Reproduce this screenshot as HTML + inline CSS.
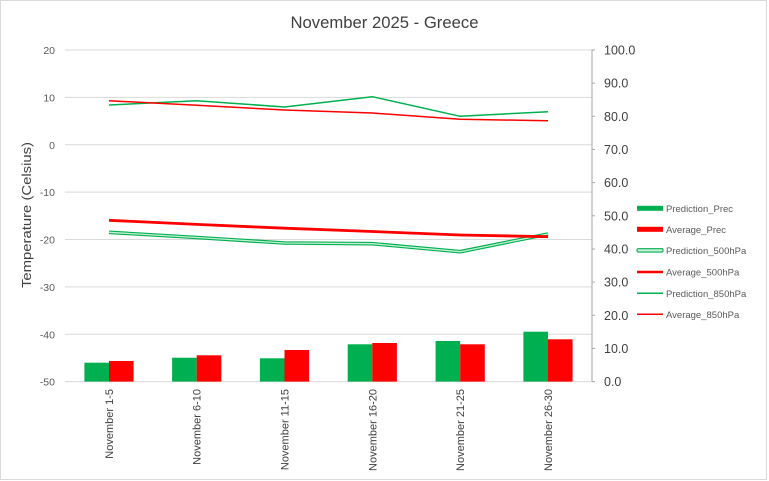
<!DOCTYPE html>
<html><head><meta charset="utf-8"><style>
html,body{margin:0;padding:0;background:#fff;}
svg{display:block;font-family:"Liberation Sans",Arial,sans-serif;}
</style></head><body>
<svg width="769" height="481" viewBox="0 0 769 481" xmlns="http://www.w3.org/2000/svg">
<rect x="0.5" y="0.5" width="766" height="479" fill="#fff" stroke="#d9d9d9" stroke-width="1"/>
<text x="384.5" y="28" text-anchor="middle" font-size="17" fill="#404040" textLength="188" lengthAdjust="spacingAndGlyphs">November 2025 - Greece</text>
<!-- gridlines -->
<g stroke="#d9d9d9" stroke-width="1">
<line x1="65" y1="50" x2="592" y2="50"/>
<line x1="65" y1="97.4" x2="592" y2="97.4"/>
<line x1="65" y1="144.8" x2="592" y2="144.8"/>
<line x1="65" y1="192.1" x2="592" y2="192.1"/>
<line x1="65" y1="239.5" x2="592" y2="239.5"/>
<line x1="65" y1="286.9" x2="592" y2="286.9"/>
<line x1="65" y1="334.3" x2="592" y2="334.3"/>
<line x1="65" y1="381.6" x2="592" y2="381.6"/>
</g>
<!-- left axis labels -->
<g font-size="10.5" fill="#595959" text-anchor="end">
<text x="55" y="54">20</text>
<text x="55" y="101.4">10</text>
<text x="55" y="148.8">0</text>
<text x="55" y="196.1">-10</text>
<text x="55" y="243.5">-20</text>
<text x="55" y="290.9">-30</text>
<text x="55" y="338.3">-40</text>
<text x="55" y="385.6">-50</text>
</g>
<text transform="translate(31,215) rotate(-90)" text-anchor="middle" font-size="12.5" fill="#404040" textLength="146" lengthAdjust="spacingAndGlyphs">Temperature (Celsius)</text>
<!-- right axis -->
<g stroke="#a6a6a6" stroke-width="1">
<line x1="592" y1="50" x2="592" y2="381.6"/>
<line x1="592" y1="50" x2="595" y2="50"/>
<line x1="592" y1="83.2" x2="595" y2="83.2"/>
<line x1="592" y1="116.3" x2="595" y2="116.3"/>
<line x1="592" y1="149.5" x2="595" y2="149.5"/>
<line x1="592" y1="182.6" x2="595" y2="182.6"/>
<line x1="592" y1="215.8" x2="595" y2="215.8"/>
<line x1="592" y1="249" x2="595" y2="249"/>
<line x1="592" y1="282.1" x2="595" y2="282.1"/>
<line x1="592" y1="315.3" x2="595" y2="315.3"/>
<line x1="592" y1="348.4" x2="595" y2="348.4"/>
<line x1="592" y1="381.6" x2="595" y2="381.6"/>
</g>
<g font-size="12.5" fill="#404040">
<text x="604" y="54.5">100.0</text>
<text x="604" y="87.7">90.0</text>
<text x="604" y="120.8">80.0</text>
<text x="604" y="154">70.0</text>
<text x="604" y="187.1">60.0</text>
<text x="604" y="220.3">50.0</text>
<text x="604" y="253.5">40.0</text>
<text x="604" y="286.6">30.0</text>
<text x="604" y="319.8">20.0</text>
<text x="604" y="352.9">10.0</text>
<text x="604" y="386.1">0.0</text>
</g>
<!-- bars -->
<g fill="#00B050">
<rect x="84.4" y="362.7" width="24.6" height="18.9"/>
<rect x="172.1" y="357.7" width="24.6" height="23.9"/>
<rect x="259.9" y="358.3" width="24.6" height="23.3"/>
<rect x="347.7" y="344.3" width="24.6" height="37.3"/>
<rect x="435.6" y="341" width="24.6" height="40.6"/>
<rect x="523.4" y="331.7" width="24.6" height="49.9"/>
</g>
<g fill="#FF0000">
<rect x="109" y="361" width="24.6" height="20.6"/>
<rect x="196.7" y="355.3" width="24.6" height="26.3"/>
<rect x="284.5" y="350" width="24.6" height="31.6"/>
<rect x="372.3" y="343" width="24.6" height="38.6"/>
<rect x="460.2" y="344.3" width="24.6" height="37.3"/>
<rect x="548" y="339.3" width="24.6" height="42.3"/>
</g>
<!-- 500 hPa prediction (double line) -->
<polyline points="109,232.3 196.7,237.5 284.5,243 372.3,243.7 460.2,251.7 548,234" fill="none" stroke="#00B050" stroke-width="3.6" stroke-linejoin="round"/>
<polyline points="109,232.3 196.7,237.5 284.5,243 372.3,243.7 460.2,251.7 548,234" fill="none" stroke="#c8f0d6" stroke-width="1.3" stroke-linejoin="round"/>
<!-- 500 hPa average -->
<polyline points="109,220.3 196.7,224.4 284.5,228.2 372.3,231.5 460.2,235 548,236.7" fill="none" stroke="#FF0000" stroke-width="2.8" stroke-linejoin="round"/>
<!-- 850 hPa -->
<polyline points="109,105 196.7,100.7 284.5,107 372.3,96.7 460.2,116.3 548,111.7" fill="none" stroke="#00B050" stroke-width="1.5" stroke-linejoin="round"/>
<polyline points="109,100.7 196.7,105.3 284.5,110 372.3,113 460.2,119.3 548,120.7" fill="none" stroke="#FF0000" stroke-width="1.5" stroke-linejoin="round"/>
<!-- x labels -->
<g font-size="11" fill="#404040" text-anchor="end">
<text transform="translate(113,389) rotate(-90)">November 1-5</text>
<text transform="translate(200.7,389) rotate(-90)">November 6-10</text>
<text transform="translate(288.5,389) rotate(-90)">November 11-15</text>
<text transform="translate(376.3,389) rotate(-90)">November 16-20</text>
<text transform="translate(464.2,389) rotate(-90)">November 21-25</text>
<text transform="translate(552,389) rotate(-90)">November 26-30</text>
</g>
<!-- legend -->
<rect x="637" y="205.8" width="26" height="5" fill="#00B050"/>
<rect x="637" y="226.8" width="26" height="5" fill="#FF0000"/>
<rect x="637" y="248.7" width="26" height="3.4" fill="#c8f0d6" stroke="#00B050" stroke-width="1.1" rx="1.5"/>
<line x1="637" y1="272" x2="663" y2="272" stroke="#FF0000" stroke-width="2.6"/>
<line x1="637" y1="293.3" x2="663" y2="293.3" stroke="#00B050" stroke-width="1.5"/>
<line x1="637" y1="314.3" x2="663" y2="314.3" stroke="#FF0000" stroke-width="1.5"/>
<g font-size="9.5" fill="#595959">
<text x="666" y="211.8">Prediction_Prec</text>
<text x="666" y="232.8">Average_Prec</text>
<text x="666" y="254.2">Prediction_500hPa</text>
<text x="666" y="275.5">Average_500hPa</text>
<text x="666" y="296.8">Prediction_850hPa</text>
<text x="666" y="317.8">Average_850hPa</text>
</g>
</svg>
</body></html>
